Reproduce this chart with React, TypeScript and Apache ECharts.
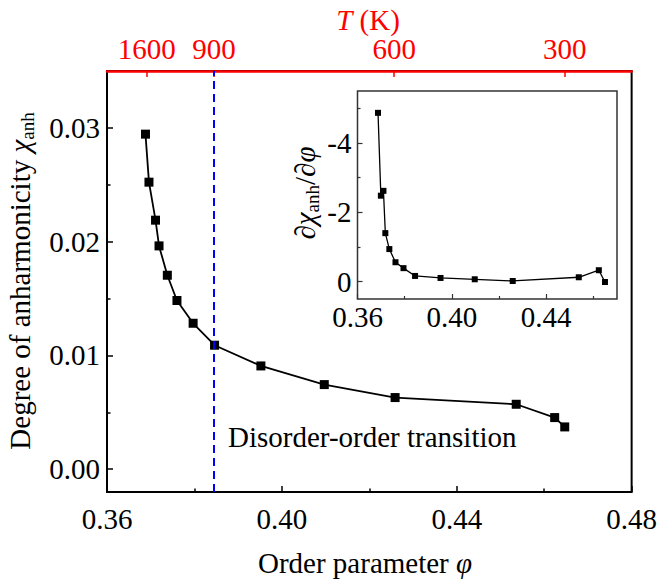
import React, { useEffect, useRef } from 'react';
import * as echarts from 'echarts';

// Main panel: order parameter vs degree of anharmonicity
const phi = [0.3688, 0.3696, 0.3711, 0.3719, 0.3738, 0.3760, 0.3797, 0.3846, 0.3952, 0.4097, 0.4259, 0.4536, 0.4624, 0.4647];
const chiAnh = [0.02945, 0.02523, 0.02189, 0.01963, 0.01705, 0.01483, 0.01283, 0.0109, 0.00908, 0.00744, 0.0063, 0.00571, 0.00454, 0.00372];

// Inset: derivative
const insetPhi = [0.3687, 0.3699, 0.3710, 0.3718, 0.3735, 0.3761, 0.3795, 0.3844, 0.3952, 0.4097, 0.4258, 0.4538, 0.4623, 0.4649];
const dChi = [-4.87, -2.48, -2.62, -1.40, -0.94, -0.56, -0.39, -0.165, -0.107, -0.069, -0.02, -0.127, -0.33, 0.01];

// Ticks
const xMajor = [0.36, 0.40, 0.44, 0.48];
const xMinor = [0.38, 0.42, 0.46];
const yMajor = [0, 0.01, 0.02, 0.03];
const yMinor = [0.005, 0.015, 0.025];
const tPhi = [0.3691, 0.3845, 0.4257, 0.4647];
const tLabels = ['1600', '900', '600', '300'];
const transitionPhi = 0.3845;
const insetXMajor = [0.36, 0.40, 0.44];
const insetXMinor = [0.38, 0.42, 0.46];
const insetYMajor = [-4, -2, 0];
const insetYMinor = [-5, -3, -1];

const FONT = '"Liberation Serif", "Times New Roman", serif';
const FS = 29;

export default function App() {
  const ref = useRef<HTMLDivElement>(null);
  useEffect(() => {
    if (!ref.current) return;
    const chart = echarts.init(ref.current, undefined, { renderer: 'svg' });
    const lbl = (extra: any = {}) => ({
      color: '#000', fontSize: FS, fontFamily: FONT, ...extra,
    });
    const noSplit = { show: false };
    const hiddenLine = { show: false, onZero: false };
    const option: any = {
      animation: false,
      backgroundColor: '#fff',
      grid: [
        { left: 107, top: 71, right: 27, bottom: 94, show: true, borderColor: '#000', borderWidth: 2, backgroundColor: 'transparent' },
        { left: 357.5, top: 91, right: 43, bottom: 287, show: true, borderColor: '#333', borderWidth: 1.5, backgroundColor: '#fff' },
      ],
      xAxis: [
        {
          gridIndex: 0, type: 'value', min: 0.36, max: 0.48, position: 'bottom',
          axisLine: hiddenLine,
          axisTick: { show: true, inside: true, length: 6, customValues: xMajor, lineStyle: { color: '#000', width: 1.5 } },
          axisLabel: lbl({ customValues: xMajor, margin: 12, formatter: (v: number) => v.toFixed(2) }),
          splitLine: noSplit,
        },
        {
          gridIndex: 0, type: 'value', min: 0.36, max: 0.48, position: 'bottom',
          axisLine: hiddenLine,
          axisTick: { show: true, inside: true, length: 3.5, customValues: xMinor, lineStyle: { color: '#000', width: 1.5 } },
          axisLabel: { show: false },
          splitLine: noSplit,
        },
        {
          gridIndex: 0, type: 'value', min: 0.36, max: 0.48, position: 'top',
          axisLine: { show: true, onZero: false, lineStyle: { color: '#ff0000', width: 2.5 } },
          axisTick: { show: true, inside: true, length: 6, customValues: tPhi, lineStyle: { color: '#ff0000', width: 1.5 } },
          axisLabel: lbl({
            color: '#ff0000', customValues: tPhi, margin: 8,
            formatter: (v: number) => {
              let best = 0;
              tPhi.forEach((p, i) => { if (Math.abs(p - v) < Math.abs(tPhi[best] - v)) best = i; });
              return tLabels[best];
            },
          }),
          splitLine: noSplit,
        },
        {
          gridIndex: 1, type: 'value', min: 0.36, max: 0.47, position: 'bottom',
          axisLine: hiddenLine,
          axisTick: { show: true, inside: true, length: 5, customValues: insetXMajor, lineStyle: { color: '#333', width: 1.2 } },
          axisLabel: lbl({ customValues: insetXMajor, margin: 3, formatter: (v: number) => v.toFixed(2) }),
          splitLine: noSplit,
        },
        {
          gridIndex: 1, type: 'value', min: 0.36, max: 0.47, position: 'bottom',
          axisLine: hiddenLine,
          axisTick: { show: true, inside: true, length: 3, customValues: insetXMinor, lineStyle: { color: '#333', width: 1.2 } },
          axisLabel: { show: false },
          splitLine: noSplit,
        },
      ],
      yAxis: [
        {
          gridIndex: 0, type: 'value', min: -0.002, max: 0.035, position: 'left',
          axisLine: hiddenLine,
          axisTick: { show: true, inside: true, length: 6, customValues: yMajor, lineStyle: { color: '#000', width: 1.5 } },
          axisLabel: lbl({ customValues: yMajor, margin: 7, formatter: (v: number) => v.toFixed(2) }),
          splitLine: noSplit,
        },
        {
          gridIndex: 0, type: 'value', min: -0.002, max: 0.035, position: 'left',
          axisLine: hiddenLine,
          axisTick: { show: true, inside: true, length: 3.5, customValues: yMinor, lineStyle: { color: '#000', width: 1.5 } },
          axisLabel: { show: false },
          splitLine: noSplit,
        },
        {
          gridIndex: 1, type: 'value', min: -5.5, max: 0.5, inverse: true, position: 'left',
          axisLine: hiddenLine,
          axisTick: { show: true, inside: true, length: 5, customValues: insetYMajor, lineStyle: { color: '#333', width: 1.2 } },
          axisLabel: lbl({ customValues: insetYMajor, margin: 6, formatter: (v: number) => String(Math.round(v)) }),
          splitLine: noSplit,
        },
        {
          gridIndex: 1, type: 'value', min: -5.5, max: 0.5, inverse: true, position: 'left',
          axisLine: hiddenLine,
          axisTick: { show: true, inside: true, length: 3, customValues: insetYMinor, lineStyle: { color: '#333', width: 1.2 } },
          axisLabel: { show: false },
          splitLine: noSplit,
        },
      ],
      series: [
        {
          type: 'line', xAxisIndex: 0, yAxisIndex: 0,
          data: phi.map((p, i) => [p, chiAnh[i]]),
          symbol: 'rect', symbolSize: 9,
          lineStyle: { color: '#000', width: 1.8 },
          itemStyle: { color: '#000' },
          markLine: {
            silent: true, symbol: ['none', 'none'], precision: 6,
            label: { show: false },
            lineStyle: { color: '#0000ff', width: 2, type: [8, 5] },
            data: [{ xAxis: transitionPhi }],
          },
        },
        {
          type: 'line', xAxisIndex: 3, yAxisIndex: 2,
          data: insetPhi.map((p, i) => [p, dChi[i]]),
          symbol: 'rect', symbolSize: 6,
          lineStyle: { color: '#000', width: 1.3 },
          itemStyle: { color: '#000' },
        },
      ],
      graphic: [
        {
          type: 'text', x: 20, y: 281, rotation: Math.PI / 2,
          style: {
            text: '{n|Degree of anharmonicity }{i|χ}{s|anh}',
            align: 'center', verticalAlign: 'middle', fill: '#000',
            rich: {
              n: { fontSize: FS, fontFamily: FONT, fill: '#000', lineHeight: 34 },
              i: { fontSize: FS, fontFamily: FONT, fontStyle: 'italic', fill: '#000', lineHeight: 34 },
              s: { fontSize: 19, fontFamily: FONT, fill: '#000', verticalAlign: 'bottom', lineHeight: 19 },
            },
          },
        },
        {
          type: 'text', x: 365, y: 563,
          style: {
            text: '{n|Order parameter }{i|φ}',
            align: 'center', verticalAlign: 'middle', fill: '#000',
            rich: {
              n: { fontSize: FS, fontFamily: FONT, fill: '#000' },
              i: { fontSize: FS, fontFamily: FONT, fontStyle: 'italic', fill: '#000' },
            },
          },
        },
        {
          type: 'text', x: 368, y: 20,
          style: {
            text: '{i|T}{n| (K)}',
            align: 'center', verticalAlign: 'middle', fill: '#ff0000',
            rich: {
              n: { fontSize: FS, fontFamily: FONT, fill: '#ff0000' },
              i: { fontSize: FS, fontFamily: FONT, fontStyle: 'italic', fill: '#ff0000' },
            },
          },
        },
        {
          type: 'text', x: 228, y: 437,
          style: {
            text: 'Disorder-order transition',
            align: 'left', verticalAlign: 'middle', fill: '#000',
            font: `${FS}px ${FONT}`,
          },
        },
        {
          type: 'text', x: 305, y: 193, rotation: Math.PI / 2, z: 10,
          style: {
            text: '{n|∂}{i|χ}{s|anh}{n|/∂}{i|φ}',
            align: 'center', verticalAlign: 'middle', fill: '#000',
            rich: {
              n: { fontSize: FS, fontFamily: FONT, fill: '#000', lineHeight: 34 },
              i: { fontSize: FS, fontFamily: FONT, fontStyle: 'italic', fill: '#000', lineHeight: 34 },
              s: { fontSize: 19, fontFamily: FONT, fill: '#000', verticalAlign: 'bottom', lineHeight: 19 },
            },
          },
        },
      ],
    };
    chart.setOption(option);
    return () => chart.dispose();
  }, []);
  return <div ref={ref} style={{ position: 'fixed', left: 0, top: 0, width: 660, height: 586 }} />;
}
